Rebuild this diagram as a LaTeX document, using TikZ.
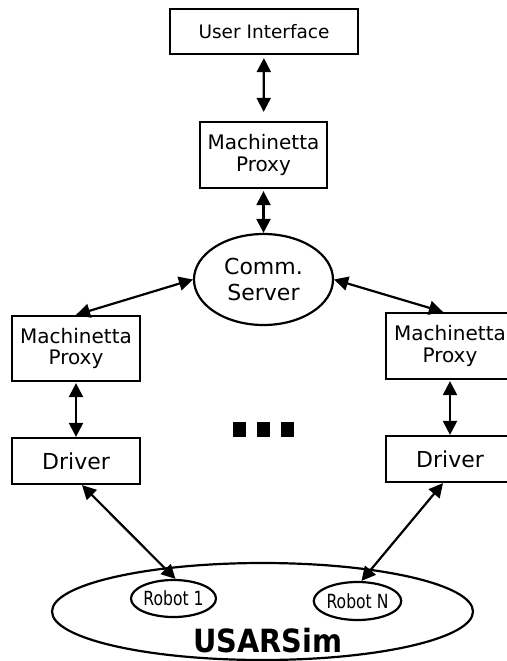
\documentclass[tikz,border=0pt]{standalone}
\usepackage{fontspec}
\setmainfont{DejaVu Sans}
\newfontfamily\robotfont{DejaVu Sans}[FakeStretch=0.8]
\newfontfamily\usarfont{DejaVu Sans Bold}[FakeStretch=0.9]
\usetikzlibrary{arrows.meta,shapes.geometric}
\begin{document}
\begin{tikzpicture}[x=1bp,y=-1bp,
  box/.style={draw, line width=2.2bp, inner sep=0pt, align=center},
  oval/.style={draw, ellipse, line width=2.2bp, inner sep=0pt, align=center},
  conn/.style={line width=2.2bp, {Triangle[length=14bp,width=14bp]}-{Triangle[length=14bp,width=14bp]}},
  mptext/.style={font=\fontsize{20bp}{21.5bp}\selectfont},
  bigtext/.style={font=\fontsize{22bp}{25.7bp}\selectfont},
  robottext/.style={font=\robotfont\fontsize{19.5bp}{21bp}\selectfont}
]
\useasboundingbox (0,0) rectangle (507,661);
\clip (0,0) rectangle (507,661);
\fill[white] (0,0) rectangle (507,661);

\node[box, minimum width=188bp, minimum height=45bp, font=\fontsize{18.5bp}{20bp}\selectfont] (ui) at (264,31.5) {User Interface};
\node[box, mptext, minimum width=127bp, minimum height=66bp] (mpt) at (263.5,155) {Machinetta\\Proxy};
\node[oval, bigtext, minimum width=139bp, minimum height=91bp] (comm) at (263.5,279.5) {Comm.\\Server};
\node[box, mptext, minimum width=128bp, minimum height=65bp] (mpl) at (76,348.5) {Machinetta\\Proxy};
\node[box, mptext, minimum width=128bp, minimum height=66bp] (mpr) at (450,346) {Machinetta\\Proxy};
\node[box, bigtext, minimum width=128bp, minimum height=46bp] (drl) at (76,461) {Driver};
\node[box, bigtext, minimum width=128bp, minimum height=46bp] (drr) at (450,459) {Driver};
\node[oval, minimum width=421bp, minimum height=97bp] (usar) at (262.5,611.5) {};
\node[anchor=base, inner sep=0pt, font=\usarfont\fontsize{32bp}{34bp}\selectfont] (usartext) at (268,652) {USARSim};
\node[oval, robottext, minimum width=85bp, minimum height=37bp] (r1) at (173.5,598.5) {Robot 1};
\node[oval, robottext, minimum width=83bp, minimum height=38bp] (rn) at (357.5,601) {Robot N};

\fill (232.5,422) rectangle (245.5,437);
\fill (257,422) rectangle (270,437);
\fill (281,422) rectangle (294,437);

\draw[conn, shorten <=3bp, shorten >=9bp] (ui) -- (mpt);
\draw[conn, shorten <=2bp] (mpt) -- (comm);
\draw[conn] (mpl.north) -- (comm.west);
\draw[conn] (comm.east) -- ([xshift=-7bp]mpr.north);
\draw[conn, shorten <=1bp] (mpl) -- (drl);
\draw[conn, shorten <=1bp] (mpr) -- (drr);
\draw[conn] ([xshift=6bp]drl.south) -- ([xshift=2bp]r1.north);
\draw[conn] ([xshift=-7bp]drr.south) -- ([xshift=4bp]rn.north);
\end{tikzpicture}
\end{document}
